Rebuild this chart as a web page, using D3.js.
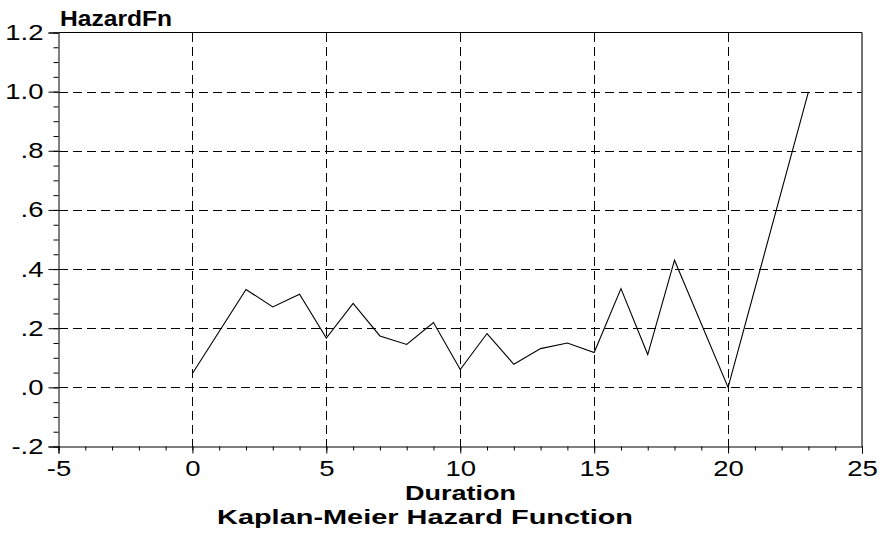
<!DOCTYPE html>
<html>
<head>
<meta charset="utf-8">
<script src="https://cdn.jsdelivr.net/npm/d3@7"></script>
<style>
  html, body { margin: 0; padding: 0; background: #fff; }
  svg { display: block; }
  text { font-family: "Liberation Sans", Arial, Helvetica, sans-serif; fill: #000; }
</style>
</head>
<body>
<svg id="chart" width="883" height="541"></svg>
<script>
// ---- data ----
const durations = [0, 2, 3, 4, 5, 6, 7, 8, 9, 10, 11, 12, 13, 14, 15, 16, 17, 18, 20, 23];
const hazard    = [0.047, 0.331, 0.272, 0.315, 0.167, 0.284, 0.174, 0.145, 0.219, 0.060,
                   0.182, 0.078, 0.131, 0.150, 0.118, 0.334, 0.111, 0.430, 0.000, 0.999];
const xTicks = [-5, 0, 5, 10, 15, 20, 25];
const yTicks = [-0.2, 0.0, 0.2, 0.4, 0.6, 0.8, 1.0, 1.2];
const xGrid = [0, 5, 10, 15, 20];
const yGrid = [0.0, 0.2, 0.4, 0.6, 0.8, 1.0];
const xMinorTicks = d3.range(-5, 26, 1);
const yMinorTicks = d3.range(-4, 25, 1).map(d => d * 0.05);
const yAxisTitle = "HazardFn";
const xAxisTitle = "Duration";
const chartTitle = "Kaplan-Meier Hazard Function";

// ---- layout ----
const L = 58.5, R = 862, T = 32.5, B = 446.5;
const SX = 1.25; // horizontal stretch of tick labels
const svg = d3.select("#chart");
const x = d3.scaleLinear().domain([-5, 25]).range([L, R]);
const y = d3.scaleLinear().domain([-0.2, 1.2]).range([B, T]);

const yFmt = v => {
  const a = Math.abs(v) < 1e-9 ? 0 : v;
  let s = Math.abs(a).toFixed(1);
  if (s.startsWith("0.")) s = s.slice(1);
  return (a < 0 ? "-" : "") + s;
};
const xFmt = v => (v < 0 ? "-" : "") + Math.abs(v);

// grid
const grid = svg.append("g").attr("stroke", "#000").attr("stroke-width", 1)
  .attr("stroke-dasharray", "9,5").attr("shape-rendering", "crispEdges");
grid.selectAll("line.h").data(yGrid).join("line").attr("class", "h")
  .attr("x1", L).attr("x2", R).attr("y1", d => Math.round(y(d)) + 0.5).attr("y2", d => Math.round(y(d)) + 0.5);
grid.selectAll("line.v").data(xGrid).join("line").attr("class", "v")
  .attr("y1", T).attr("y2", B).attr("x1", d => Math.round(x(d)) + 0.5).attr("x2", d => Math.round(x(d)) + 0.5);

// frame (top / right)
svg.append("line").attr("x1", L).attr("x2", R).attr("y1", T).attr("y2", T)
  .attr("stroke", "#000").attr("shape-rendering", "crispEdges");
svg.append("line").attr("x1", R).attr("x2", R).attr("y1", T).attr("y2", B)
  .attr("stroke", "#444").attr("stroke-width", 1.5);

// left axis
const yAxis = d3.axisLeft(y).tickValues(yTicks).tickFormat(yFmt).tickSize(10).tickPadding(5);
const gy = svg.append("g").attr("transform", `translate(${L},0)`).call(yAxis);
gy.select(".domain").attr("stroke", "#000");
gy.selectAll(".tick line").attr("stroke", "#000");
gy.selectAll("text").style("font-size", "22px").attr("fill", "#000")
  .attr("x", -15 / SX).attr("transform", `scale(${SX},1)`);
const yMinor = d3.axisLeft(y).tickValues(yMinorTicks).tickSize(5).tickFormat("");
svg.append("g").attr("transform", `translate(${L},0)`).call(yMinor)
  .call(g => g.select(".domain").remove());

// bottom axis
const xAxis = d3.axisBottom(x).tickValues(xTicks).tickFormat(xFmt).tickSize(7).tickPadding(7);
const gx = svg.append("g").attr("transform", `translate(0,${B})`).call(xAxis);
gx.select(".domain").attr("stroke", "#000");
gx.selectAll("text").style("font-size", "22px").attr("fill", "#000")
  .attr("transform", `scale(${SX},1)`);
const xMinor = d3.axisBottom(x).tickValues(xMinorTicks).tickSize(4).tickFormat("");
svg.append("g").attr("transform", `translate(0,${B})`).call(xMinor)
  .call(g => g.select(".domain").remove());

// line
const line = d3.line().x((d, i) => x(durations[i])).y(d => y(d));
svg.append("path").datum(hazard).attr("d", line)
  .attr("fill", "none").attr("stroke", "#000").attr("stroke-width", 1.1);

// titles
svg.append("text").attr("x", 60).attr("y", 26).style("font-size", "22px").style("font-weight", "bold")
  .attr("textLength", 112).attr("lengthAdjust", "spacingAndGlyphs").text(yAxisTitle);
svg.append("text").attr("x", 405).attr("y", 500)
  .style("font-size", "20px").style("font-weight", "bold")
  .attr("textLength", 111).attr("lengthAdjust", "spacingAndGlyphs").text(xAxisTitle);
svg.append("text").attr("x", 217).attr("y", 524)
  .style("font-size", "20px").style("font-weight", "bold")
  .attr("textLength", 416).attr("lengthAdjust", "spacingAndGlyphs").text(chartTitle);
</script>
</body>
</html>
